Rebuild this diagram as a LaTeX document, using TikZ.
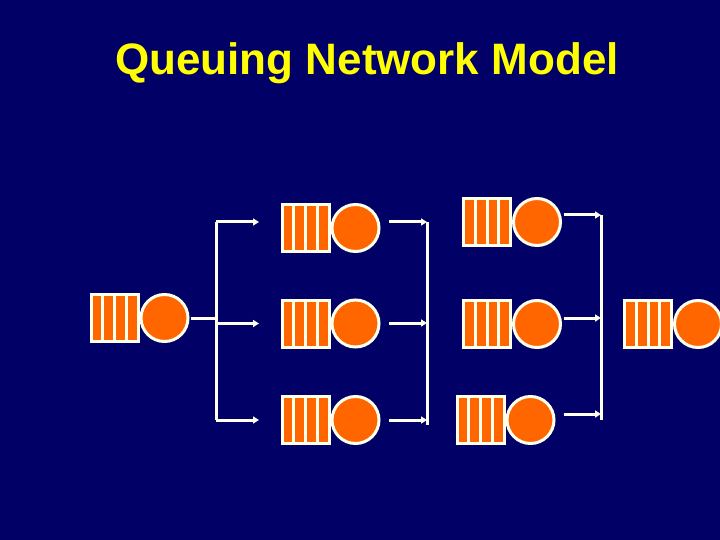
\documentclass[tikz,border=0pt]{standalone}
\usepackage{fontspec}
\setmainfont{Liberation Sans}
\usetikzlibrary{positioning,arrows.meta,calc}
\definecolor{navy}{RGB}{0,0,102}
\definecolor{qorange}{RGB}{255,102,0}
\definecolor{cream}{RGB}{255,255,238}
\definecolor{titleyellow}{RGB}{255,255,0}

\begin{document}
\begin{tikzpicture}[x=1pt, y=-1pt,
  every node/.style={inner sep=0pt, outer sep=0pt},
  buf/.style={draw=cream, fill=qorange, line width=3pt, minimum width=47pt, minimum height=47pt,
    path picture={\foreach \k in {1,2,3}
      \draw[cream, line width=3pt] ([xshift=\k*11.75pt]path picture bounding box.north west)
        -- ([xshift=\k*11.75pt]path picture bounding box.south west);}},
  srv/.style={circle, draw=cream, fill=qorange, line width=3pt, minimum size=47pt},
  arr/.style={-{Triangle[length=6pt, width=7pt]}, draw=cream, fill=cream, line width=3pt},
  bus/.style={draw=cream, line width=3pt}
]
% Background and page size
\clip (0,0) rectangle (720,540);
\fill[navy] (0,0) rectangle (720,540);

% Title
\node[anchor=base, font=\bfseries\fontsize{44}{52}\selectfont, text=titleyellow] (title) at (367,75) {Queuing Network Model};

% Stations: queue buffer followed by server
\node[buf] (qA) at (114.5,318) {};
\node[srv, right=3pt of qA] (sA) {};

\node[buf] (q21) at (305.5,228) {};
\node[srv, right=3pt of q21] (s21) {};
\node[buf] (q22) at (305.5,323.5) {};
\node[srv, right=3pt of q22] (s22) {};
\node[buf] (q23) at (305.5,420) {};
\node[srv, right=3pt of q23] (s23) {};

\node[buf] (q31) at (487,222) {};
\node[srv, right=3pt of q31] (s31) {};
\node[buf] (q32) at (487,324) {};
\node[srv, right=3pt of q32] (s32) {};
\node[buf] (q33) at (480.5,420) {};
\node[srv, right=3pt of q33] (s33) {};

\node[buf] (q4) at (648,324) {};
\node[srv, right=3pt of q4] (s4) {};

% Fork after the first station
\coordinate (b1top) at (216,222);
\coordinate (b1bot) at (216,420);
\draw[bus] (b1top) -- (b1bot);
\draw[bus] ([xshift=3pt]sA.east) -- (sA -| b1top);
\draw[arr, shorten >=23pt] (b1top) -- (b1top -| q21.west);
\draw[arr, shorten >=23pt] (b1top |- q22) -- (q22.west);
\draw[arr, shorten >=23pt] (b1bot) -- (b1bot -| q23.west);

% Join after the second column
\coordinate (b2top) at (427,222);
\coordinate (b2mid) at (427,323);
\coordinate (b2bot) at (427,420);
\draw[bus] (b2top) -- ++(0,203);
\draw[arr] ($(b2top -| s21.east)+(10,0)$) -- (b2top);
\draw[arr] ($(b2mid -| s22.east)+(10,0)$) -- (b2mid);
\draw[arr] ($(b2bot -| s23.east)+(10,0)$) -- (b2bot);

% Join after the third column
\coordinate (b3top) at (601,215);
\coordinate (b3mid) at (601,318);
\coordinate (b3bot) at (601,414);
\draw[bus] (b3top) -- ++(0,205);
\draw[arr] ($(b3top -| s31.east)+(3,0)$) -- (b3top);
\draw[arr] ($(b3mid -| s32.east)+(3,0)$) -- (b3mid);
\draw[arr] ($(b3bot -| s31.east)+(3,0)$) -- (b3bot);
\end{tikzpicture}
\end{document}
